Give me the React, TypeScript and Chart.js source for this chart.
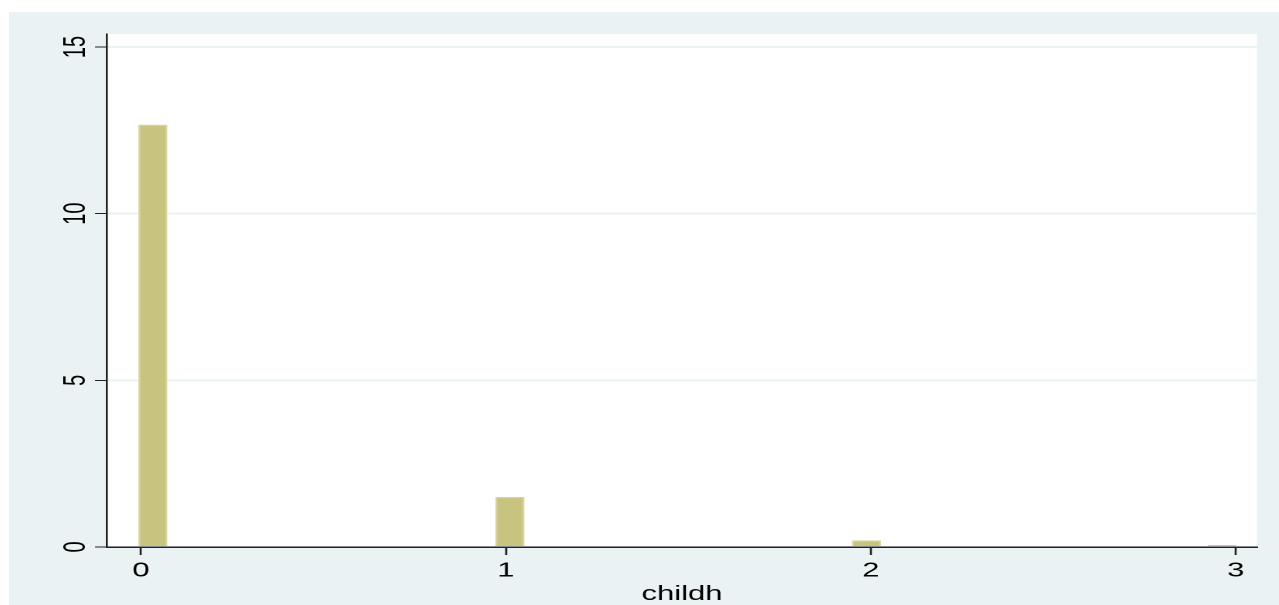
import React, { useEffect, useRef } from "react";
import { Chart, registerables } from "chart.js";

Chart.register(...registerables);

// ---- data ----
const binCenters = [0.0326, 1.011, 1.988, 2.963];
const densities = [12.66, 1.49, 0.19, 0.05];
const xTickValues = [0, 1, 2, 3];
const yTickValues = [0, 5, 10, 15];
const xAxisTitle = "childh";

// ---- layout (page px are stretched horizontally like the original) ----
const PAGE_W = 1270;
const PAGE_H = 593;
const SX = 1.5488;
const LOG_W = Math.round(PAGE_W / SX);
const LOG_H = PAGE_H;

const BG = "rgb(234,242,243)";
const FONT = "'Liberation Sans', Arial, Helvetica, sans-serif";

const plotBg = {
  id: "plotBg",
  beforeDraw(chart: any) {
    const { ctx, chartArea } = chart;
    ctx.save();
    ctx.fillStyle = "#ffffff";
    ctx.fillRect(chartArea.left, chartArea.top, chartArea.right - chartArea.left, chartArea.bottom - chartArea.top);
    ctx.restore();
  },
};

export default function App() {
  const ref = useRef<HTMLCanvasElement | null>(null);

  useEffect(() => {
    if (!ref.current) return;
    const chart = new Chart(ref.current, {
      type: "bar",
      data: {
        datasets: [
          {
            data: binCenters.map((x, i) => ({ x, y: densities[i] })),
            backgroundColor: "rgb(201,195,128)",
            borderColor: "rgb(216,211,158)",
            borderWidth: 1.3,
            barThickness: 28 / SX,
          },
        ],
      },
      plugins: [plotBg],
      options: {
        responsive: false,
        animation: false,
        devicePixelRatio: 2,
        layout: { padding: { top: 22, right: LOG_W - 1248 / SX, left: 0, bottom: 0 } },
        plugins: { legend: { display: false }, tooltip: { enabled: false }, title: { display: false } },
        scales: {
          x: {
            type: "linear",
            min: -0.0932,
            max: 3.0584,
            offset: false,
            afterBuildTicks: (s: any) => {
              s.ticks = xTickValues.map((v) => ({ value: v }));
            },
            afterFit: (s: any) => {
              s.height = LOG_H - 535;
            },
            grid: { offset: false, drawOnChartArea: false, drawTicks: true, tickLength: 8, tickColor: "#222", tickWidth: 1.3 },
            border: { display: true, color: "#222", width: 1.5 },
            ticks: {
              padding: 4,
              color: "#000",
              font: { family: FONT, size: 20 },
              maxRotation: 0,
              minRotation: 0,
              autoSkip: false,
            },
            title: {
              display: true,
              text: xAxisTitle,
              color: "#000",
              font: { family: FONT, size: 20, lineHeight: 1 },
              padding: { top: 0, bottom: 0.5 },
            },
          },
          y: {
            type: "linear",
            min: 0,
            max: 15.39,
            afterBuildTicks: (s: any) => {
              s.ticks = yTickValues.map((v) => ({ value: v }));
            },
            afterFit: (s: any) => {
              s.width = 98 / SX;
            },
            grid: { color: BG, lineWidth: 2, drawTicks: true, tickLength: 12 / SX, tickColor: "#222", tickWidth: 1 },
            border: { display: true, color: "#222", width: 1.3 },
            ticks: {
              padding: 1,
              color: "#000",
              crossAlign: "center",
              minRotation: 90,
              maxRotation: 90,
              font: { family: FONT, size: 20 },
              autoSkip: false,
            },
          },
        },
      } as any,
    });
    return () => chart.destroy();
  }, []);

  return (
    <div
      style={{
        position: "absolute",
        left: 9,
        top: 12,
        width: PAGE_W,
        height: PAGE_H,
        background: BG,
        overflow: "hidden",
      }}
    >
      <canvas
        ref={ref}
        width={LOG_W}
        height={LOG_H}
        style={{ width: PAGE_W + "px", height: PAGE_H + "px", display: "block" }}
      />
    </div>
  );
}
